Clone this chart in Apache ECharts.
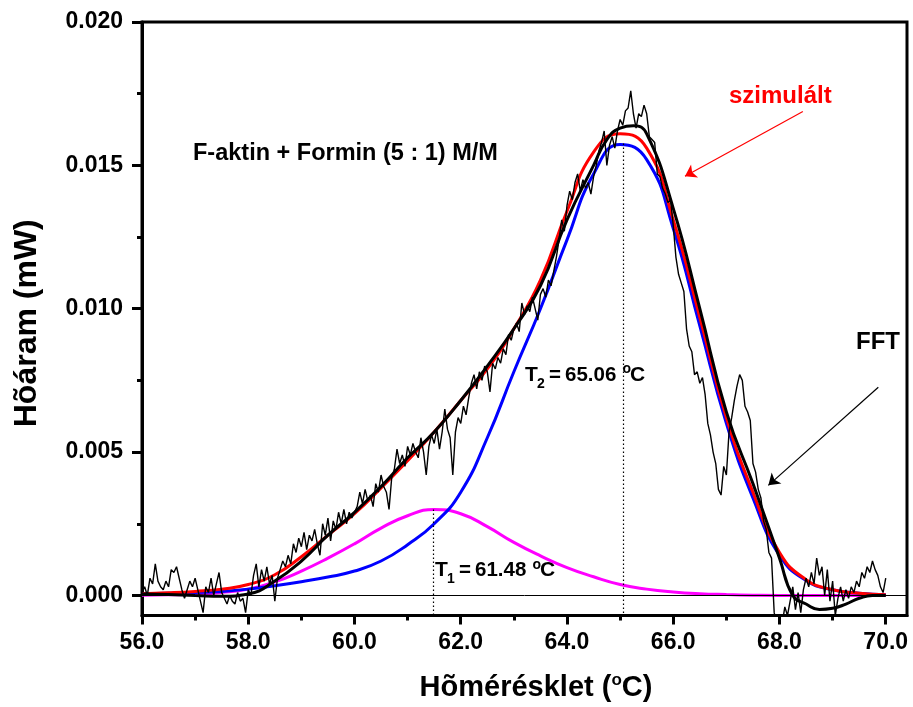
<!DOCTYPE html>
<html><head><meta charset="utf-8">
<script src="https://cdn.jsdelivr.net/npm/echarts@6/dist/echarts.min.js"></script>
<style>html,body{margin:0;padding:0;background:#fff}#c{width:913px;height:707px}</style>
</head><body><div id="c"></div>
<script>
// ---- data ----
const measuredStart = 56, measuredStep = 0.05;
const measured = [
0.0001,0.0003,0.0000,0.0006,0.0004,0.0011,0.0005,0.0003,0.0002,0.0005,
0.0003,0.0009,0.0008,0.0010,0.0006,0.0002,-0.0001,0.0002,0.0005,0.0003,
0.0006,0.0002,-0.0002,-0.0006,0.0003,0.0001,0.0006,0.0000,0.0004,0.0008,
0.0001,-0.0001,-0.0003,0.0000,-0.0002,-0.0003,0.0001,-0.0002,-0.0001,-0.0006,
0.0002,0.0000,0.0007,0.0011,0.0003,0.0009,0.0005,0.0010,0.0004,0.0007,
-0.0002,0.0006,0.0009,0.0012,0.0010,0.0014,0.0011,0.0018,0.0015,0.0020,
0.0017,0.0022,0.0016,0.0021,0.0019,0.0023,0.0018,0.0014,0.0025,0.0021,
0.0027,0.0019,0.0026,0.0023,0.0029,0.0025,0.0030,0.0025,0.0029,0.0027,
0.0029,0.0031,0.0036,0.0032,0.0037,0.0033,0.0035,0.0031,0.0039,0.0036,
0.0042,0.0038,0.0036,0.0030,0.0041,0.0044,0.0051,0.0046,0.0049,0.0045,
0.0052,0.0049,0.0053,0.0050,0.0048,0.0055,0.0050,0.0042,0.0052,0.0056,
0.0053,0.0058,0.0051,0.0057,0.0065,0.0058,0.0055,0.0042,0.0057,0.0062,
0.0060,0.0066,0.0063,0.0069,0.0074,0.0077,0.0072,0.0078,0.0075,0.0080,
0.0078,0.0071,0.0081,0.0079,0.0083,0.0081,0.0086,0.0084,0.0091,0.0089,
0.0093,0.0095,0.0092,0.0102,0.0098,0.0101,0.0099,0.0104,0.0100,0.0096,
0.0105,0.0107,0.0104,0.0110,0.0108,0.0113,0.0118,0.0124,0.0131,0.0127,
0.0136,0.0141,0.0138,0.0144,0.0147,0.0141,0.0145,0.0142,0.0144,0.0140,
0.0146,0.0150,0.0155,0.0158,0.0162,0.0150,0.0157,0.0160,0.0156,0.0162,
0.0166,0.0164,0.0169,0.0170,0.0176,0.0168,0.0163,0.0168,0.0167,0.0171,
0.0168,0.0160,0.0159,0.0158,0.0147,0.0146,0.0142,0.0140,0.0137,0.0138,
0.0129,0.0118,0.0112,0.0109,0.0106,0.0093,0.0087,0.0085,0.0077,0.0078,
0.0074,0.0076,0.0070,0.0060,0.0056,0.0050,0.0046,0.0037,0.0035,0.0045,
0.0042,0.0057,0.0062,0.0068,0.0073,0.0077,0.0075,0.0066,0.0064,0.0061,
0.0046,0.0043,0.0037,0.0034,0.0026,0.0023,0.0015,0.0013,-0.0006,-0.0010,
-0.0007,-0.0010,-0.0004,-0.0007,-0.0002,0.0003,-0.0005,0.0001,-0.0006,0.0002,
0.0006,0.0003,0.0008,0.0004,0.0013,0.0007,0.0010,0.0000,0.0009,-0.0002,
0.0005,-0.0007,-0.0001,0.0003,-0.0002,0.0002,-0.0001,0.0003,0.0001,0.0005,
0.0003,0.0008,0.0006,0.0010,0.0008,0.0012,0.0009,0.0007,0.0003,0.0001,
0.0006
];
const fitT = [56,56.5,57,57.5,58,58.5,59,59.5,60,60.5,61,61.5,62,62.5,63,63.5,64,64.5,65,65.5,66,66.5,67,67.5,68,68.5,69,69.5,70];
const simulated = [0.00006,0.00009,0.00014,0.00022,0.00038,0.00072,0.00135,0.0021,0.00285,0.00375,0.0047,0.0057,0.0068,0.0079,0.0093,0.0110,0.0134,0.01546,0.0161,0.0156,0.0131,0.0097,0.0062,0.0036,0.0015,0.00055,0.0002,0.00008,0.00002];
const peak1 = [0.00001,0.00002,0.00004,0.0001,0.00022,0.00047,0.00085,0.0013,0.0018,0.00235,0.00278,0.0030,0.00285,0.0024,0.00185,0.00138,0.00097,0.00065,0.00038,0.00022,0.00012,0.00006,0.00003,0.00001,0,0,0,0,0];
const peak2 = [0.00006,0.00008,0.0001,0.00014,0.00022,0.00034,0.00048,0.00064,0.00085,0.0012,0.00177,0.0025,0.0036,0.0055,0.0078,0.0100,0.0124,0.0147,0.01573,0.0152,0.0128,0.0094,0.0060,0.0034,0.0014,0.00052,0.0002,0.00008,0.00002];
const fftT = [56,56.5,57,57.5,58,58.5,59,59.5,60,60.5,61,61.5,62,62.5,63,63.5,64,64.5,64.75,65,65.25,65.5,66,66.5,67,67.5,68,68.25,68.5,68.75,69,69.25,69.5,69.75,70];
const fft = [0.00005,0.00003,0.0,-0.00003,0.00005,0.0005,0.0012,0.0021,0.0029,0.0038,0.0048,0.0057,0.0068,0.0080,0.0093,0.0108,0.0131,0.0150,0.0159,0.0163,0.01638,0.0161,0.0135,0.0100,0.0064,0.0039,0.0013,0.0000,-0.0003,-0.00049,-0.00045,-0.0003,-0.0001,0.0,0.0];
const xMajor = [56,58,60,62,64,66,68,70];
const xMinor = [57,59,61,63,65,67,69];
const yMajor = [0,0.005,0.010,0.015,0.020];
const yMinor = [0.0025,0.0075,0.0125,0.0175];
const peakT = [61.48, 65.06];
const peakH = [0.0030, 0.01576];
const peakSub = ['1', '2'];
const arrowSim = [[68.44,0.01688],[66.22,0.01462]];
const arrowFFT = [[69.86,0.00726],[67.79,0.00384]];
const X_MIN = 56, X_MAX = 70.4, Y_MIN = -0.0007, Y_MAX = 0.020;

// ---- chart ----
const F = "'Liberation Sans', Arial, sans-serif";
const chart = echarts.init(document.getElementById('c'), null, {renderer:'canvas'});
const measuredPts = measured.map((v,i)=>[+(measuredStart + i*measuredStep).toFixed(2), v]);
const pair = (xs, ys) => xs.map((t,i)=>[t, ys[i]]);
const axisBase = { type:'value', splitLine:{show:false} };

// peak label built from pieces: T, subscript, "=", value, superscript o, C
function peakLabel(x0, cy, sub, value) {
  const t = (x, y, text, size) => ({type:'text', x:x, y:y, silent:true,
    style:{text:text, font:'bold ' + size + 'px ' + F, fill:'#000', align:'left', verticalAlign:'middle'}});
  return [
    t(x0, cy, 'T', 21),
    t(x0 + 12, cy + 9, sub, 14),
    t(x0 + 24, cy, '=', 20.5),
    t(x0 + 40, cy, value.toFixed(2), 20.5),
    t(x0 + 97.5, cy - 5.5, 'o', 14),
    t(x0 + 105, cy, 'C', 21)
  ];
}

const opt = {
  animation:false,
  backgroundColor:'#fff',
  grid:{left:142, top:22, width:765, height:595, show:true, borderColor:'#000', borderWidth:3},
  xAxis:[
    Object.assign({}, axisBase, {
      min:X_MIN, max:X_MAX, position:'bottom',
      axisLine:{show:true, onZero:false, lineStyle:{color:'#000', width:3}},
      axisTick:{show:true, customValues:xMajor, length:9, lineStyle:{color:'#000', width:3}},
      axisLabel:{show:true, customValues:xMajor, formatter:v=>Number(v).toFixed(1), fontFamily:F, fontSize:23, fontWeight:'bold', color:'#000', margin:16},
      name:'Hõmérésklet ({s|o}C)', nameLocation:'middle', nameGap:56,
      nameTextStyle:{fontFamily:F, fontSize:29, fontWeight:'bold', color:'#000', padding:[0,0,0,23],
        rich:{s:{fontFamily:F, fontSize:17, fontWeight:'bold', color:'#000', verticalAlign:'top', lineHeight:32}}}
    }),
    Object.assign({}, axisBase, {
      min:X_MIN, max:X_MAX, position:'bottom',
      axisLine:{show:false, onZero:false},
      axisTick:{show:true, customValues:xMinor, length:5, lineStyle:{color:'#000', width:3}},
      axisLabel:{show:false}
    })
  ],
  yAxis:[
    Object.assign({}, axisBase, {
      min:Y_MIN, max:Y_MAX, position:'left',
      axisLine:{show:true, onZero:false, lineStyle:{color:'#000', width:3}},
      axisTick:{show:true, customValues:yMajor, length:10, lineStyle:{color:'#000', width:3}},
      axisLabel:{show:true, customValues:yMajor, formatter:v=>Number(v).toFixed(3), fontFamily:F, fontSize:23, fontWeight:'bold', color:'#000', margin:19},
      name:'Hõáram (mW)', nameLocation:'middle', nameRotate:90, nameGap:99,
      nameTextStyle:{fontFamily:F, fontSize:32, fontWeight:'bold', color:'#000', padding:[0,9,0,0]}
    }),
    Object.assign({}, axisBase, {
      min:Y_MIN, max:Y_MAX, position:'left',
      axisLine:{show:false, onZero:false},
      axisTick:{show:true, customValues:yMinor, length:5, lineStyle:{color:'#000', width:3}},
      axisLabel:{show:false}
    })
  ],
  series:[
    {name:'T1', type:'line', data:pair(fitT, peak1), smooth:true, showSymbol:false, silent:true,
     lineStyle:{color:'#ff00ff', width:3}, z:2,
     markLine:{silent:true, symbol:'none', label:{show:false},
       lineStyle:{color:'#000', width:1.2, type:[1.5,2.5]},
       data: peakT.map((t,i)=>[{coord:[t, peakH[i]]},{coord:[t, Y_MIN]}])}},
    {name:'T2', type:'line', data:pair(fitT, peak2), smooth:true, showSymbol:false, silent:true,
     lineStyle:{color:'#0000ff', width:3}, z:3},
    {name:'szimulált', type:'line', data:pair(fitT, simulated), smooth:true, showSymbol:false, silent:true,
     lineStyle:{color:'#ff0000', width:3}, z:4,
     markLine:{silent:true, symbol:['none','arrow'], symbolSize:11, label:{show:false},
       data:[
         [{coord:arrowSim[0], lineStyle:{color:'#ff0000', width:1.2, type:'solid'}},{coord:arrowSim[1]}],
         [{coord:arrowFFT[0], lineStyle:{color:'#000', width:1.2, type:'solid'}},{coord:arrowFFT[1]}]
       ]}},
    {name:'mért', type:'line', data:measuredPts, smooth:false, showSymbol:false, silent:true,
     lineStyle:{color:'#000', width:1.4}, z:5,
     markLine:{silent:true, symbol:'none', label:{show:false},
       lineStyle:{color:'#000', width:1, type:'solid'}, data:[{yAxis:0}]}},
    {name:'FFT', type:'line', data:pair(fftT, fft), smooth:true, showSymbol:false, silent:true,
     lineStyle:{color:'#000', width:3}, z:6}
  ],
  graphic:[
    {type:'text', left:193, top:142, style:{text:'F-aktin + Formin (5 : 1) M/M', font:"bold 23.5px " + F, fill:'#000'}},
    {type:'text', left:729, top:84, style:{text:'szimulált', font:"bold 24px " + F, fill:'#ff0000'}},
    {type:'text', left:856, top:330, style:{text:'FFT', font:"bold 24px " + F, fill:'#000'}}
  ].concat(peakLabel(525, 375, peakSub[1], peakT[1]), peakLabel(435, 570.5, peakSub[0], peakT[0]))
};
chart.setOption(opt);
</script></body></html>
